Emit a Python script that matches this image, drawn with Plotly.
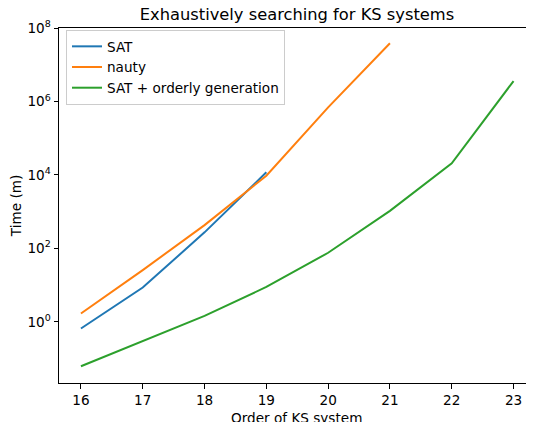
import plotly.graph_objects as go

orders = [16, 17, 18, 19, 20, 21, 22, 23]
sat_orders = [16, 17, 18, 19]
sat_times = [0.66, 8.6, 273, 11800]
nauty_orders = [16, 17, 18, 19, 20, 21]
nauty_times = [1.69, 25.6, 431, 9500, 6.9e5, 3.85e7]
og_orders = [16, 17, 18, 19, 20, 21, 22, 23]
og_times = [0.062, 0.30, 1.45, 8.9, 76, 1050, 20700, 3.6e6]
y_tickvals = [1, 1e2, 1e4, 1e6, 1e8]

FONT = "DejaVu Sans"
FS = 13.6
# page body has an 8px margin, so the figure is 8px smaller than the window
W, H = 526, 414
L, T, B = 51, 20, 39
PW = W - L
PH = H - T - B
fig = go.Figure()
fig.add_trace(go.Scatter(x=sat_orders, y=sat_times, mode="lines", name="SAT",
                         line=dict(color="#1f77b4", width=2)))
fig.add_trace(go.Scatter(x=nauty_orders, y=nauty_times, mode="lines", name="nauty",
                         line=dict(color="#ff7f0e", width=2)))
fig.add_trace(go.Scatter(x=og_orders, y=og_times, mode="lines", name="SAT + orderly generation",
                         line=dict(color="#2ca02c", width=2)))

fig.update_layout(
    width=W, height=H,
    margin=dict(l=L, r=0, t=T, b=B, autoexpand=False),
    paper_bgcolor="white", plot_bgcolor="white",
    font=dict(family=FONT, size=FS, color="black"),
    title=dict(text="Exhaustively searching for KS systems", x=289 / W, xanchor="center",
               y=1 - 6 / H, yanchor="middle", font=dict(size=16.3, family=FONT)),
    showlegend=True,
    legend=dict(x=7 / PW, y=1 - 2 / PH, xanchor="left", yanchor="top",
                bgcolor="white", bordercolor="#cccccc", borderwidth=1,
                font=dict(size=FS, family=FONT), tracegroupgap=0),
    annotations=[dict(text="Order of KS system", xref="paper", yref="paper",
                      x=0.5, y=-25 / PH, xanchor="center", yanchor="top",
                      showarrow=False, font=dict(size=FS, family=FONT))],
)
fig.update_xaxes(range=[15.645, 15.645 + PW / 61.8], tickvals=orders, ticktext=[str(o) for o in orders],
                 showline=True, linecolor="black", linewidth=1, mirror=True,
                 ticks="outside", ticklen=4.5, tickwidth=1, tickcolor="black",
                 showgrid=False, zeroline=False, automargin=False)
fig.update_yaxes(type="log", range=[-1.665, 8.0], tickvals=y_tickvals,
                 ticktext=["10<sup>0</sup>", "10<sup>2</sup>", "10<sup>4</sup>", "10<sup>6</sup>", "10<sup>8</sup>"],
                 showline=True, linecolor="black", linewidth=1, mirror=True,
                 ticks="outside", ticklen=4.5, tickwidth=1, tickcolor="black",
                 showgrid=False, zeroline=False, automargin=False,
                 title=dict(text="Time (m)", standoff=4, font=dict(size=FS)))
fig.write_html("out.html")
